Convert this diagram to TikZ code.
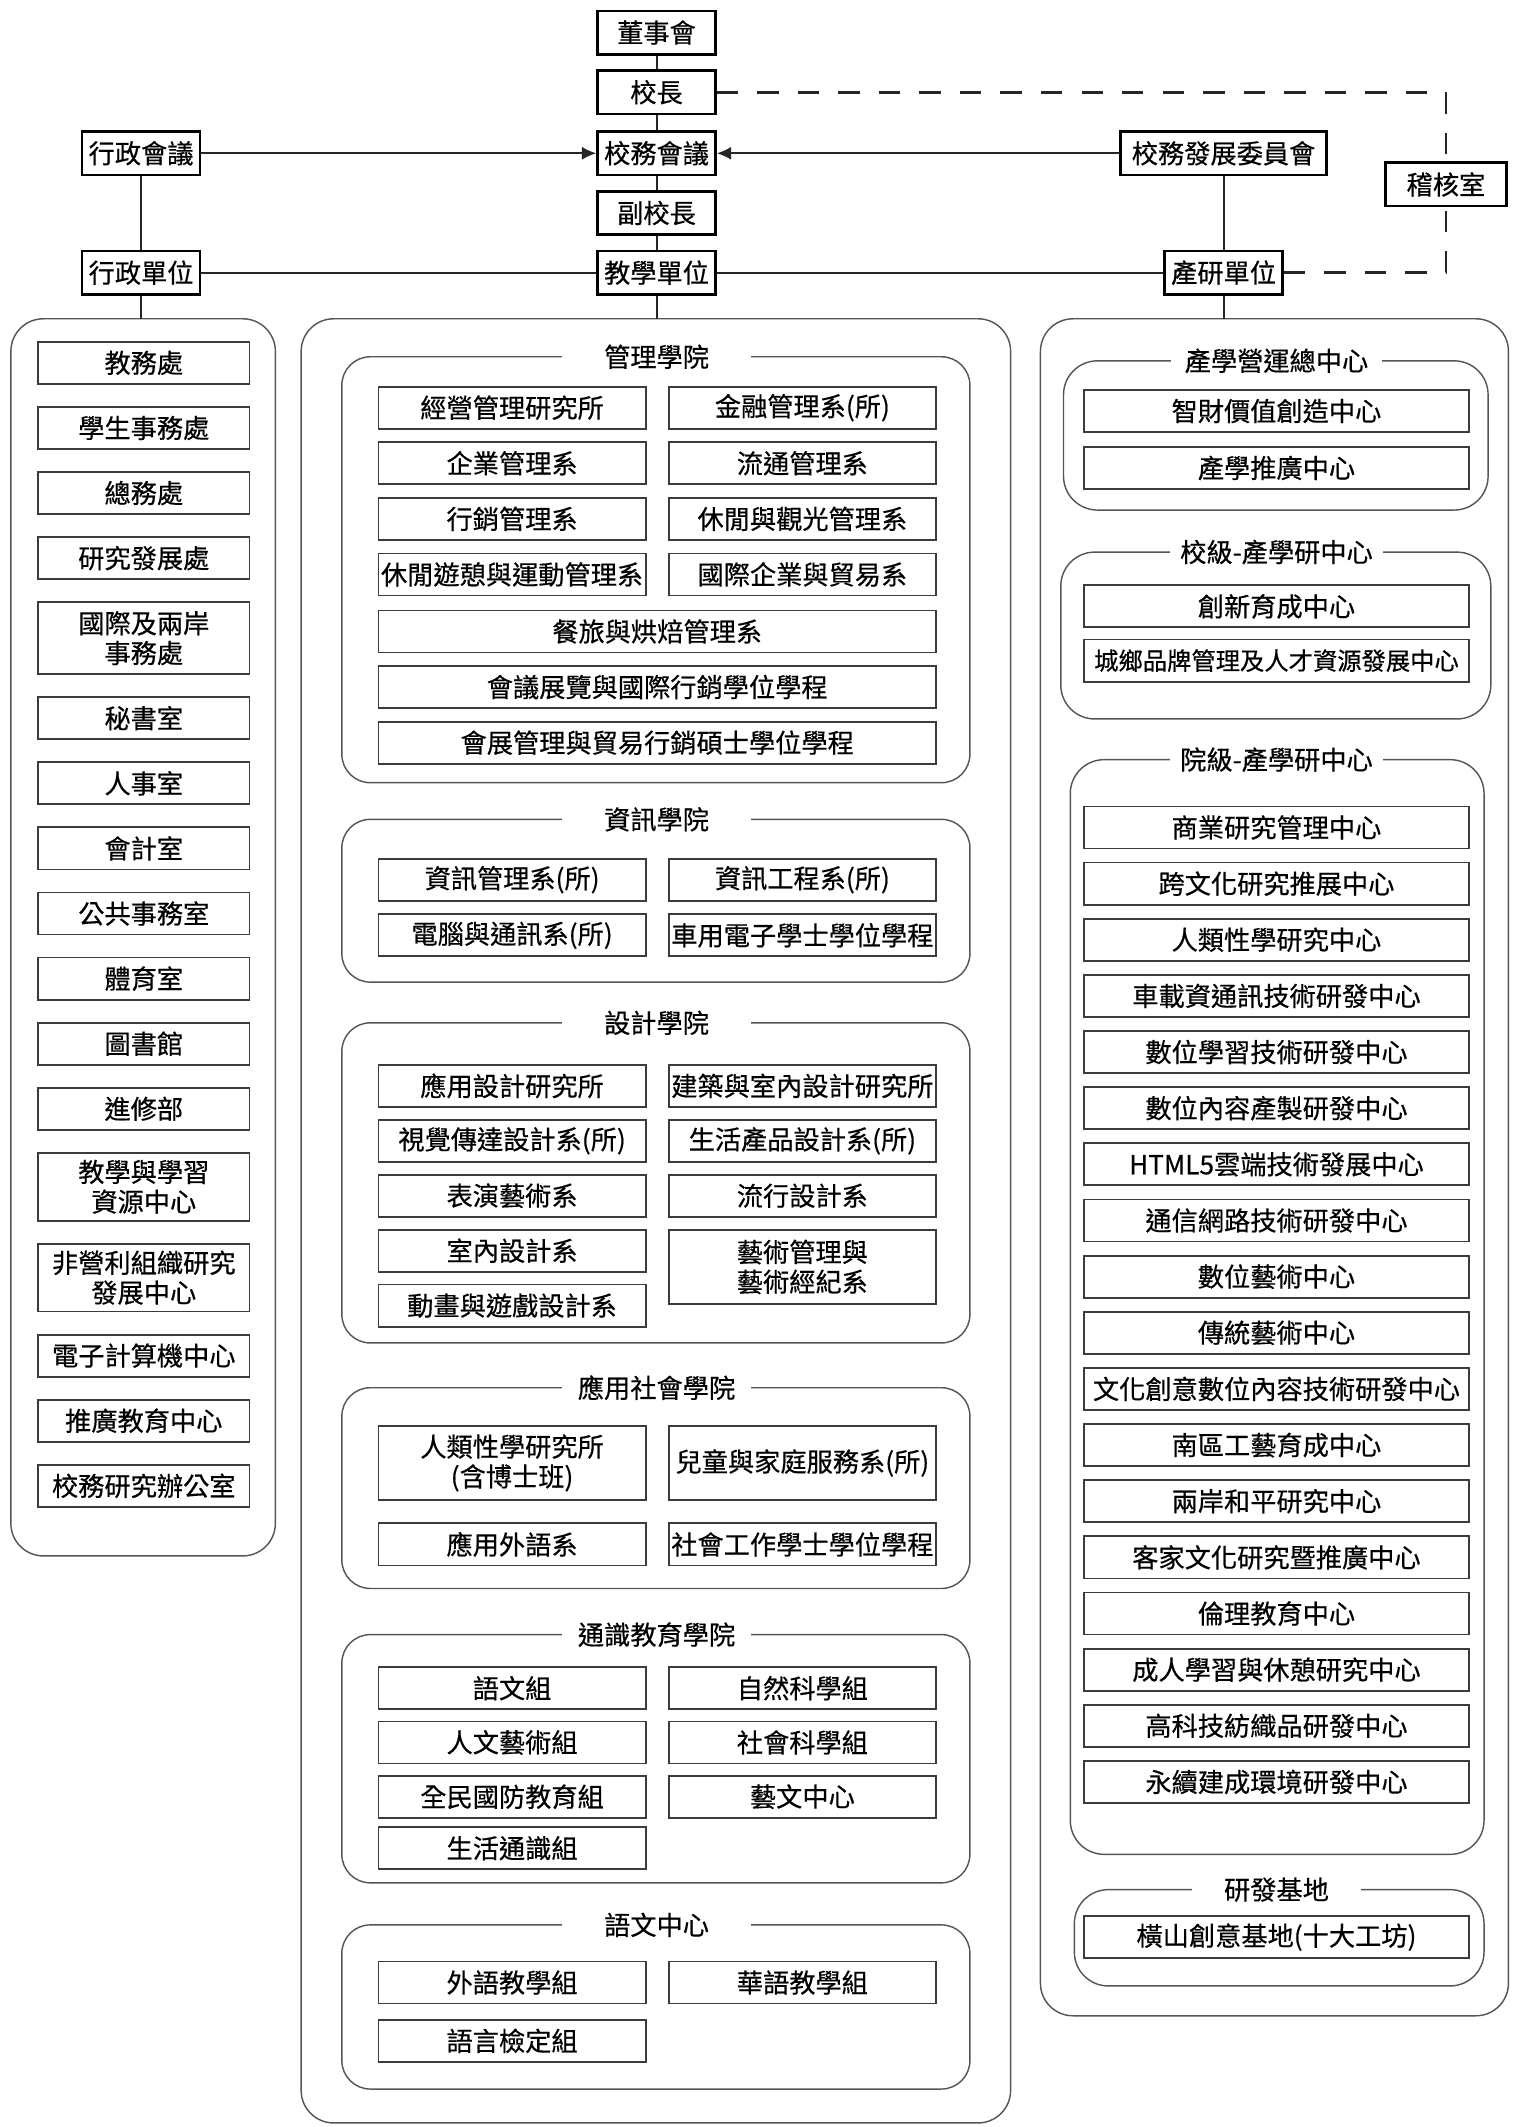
\documentclass[tikz,border=0pt]{standalone}
\usepackage{fontspec}
\setmainfont{Noto Sans CJK TC}[FakeBold=0.5]
\usetikzlibrary{arrows.meta, positioning}
\definecolor{boxgray}{HTML}{3C3C3C}
\definecolor{linegray}{HTML}{555555}

\begin{document}
\begin{tikzpicture}[x=0.02cm, y=-0.02cm,
    font=\fontsize{11}{12.5}\selectfont,
    headbox/.style={draw=black, line width=1.1pt, minimum width=1.74cm,
                    minimum height=0.64cm, inner xsep=1pt, inner ysep=0pt},
    itembox/.style={draw=boxgray, line width=0.75pt, minimum height=0.62cm,
                    inner xsep=1pt, inner ysep=0pt, outer sep=0pt, align=center},
    admbox/.style={itembox, minimum width=3.12cm},
    halfbox/.style={itembox, minimum width=3.94cm},
    fullbox/.style={itembox, minimum width=8.22cm},
    ctrbox/.style={itembox, minimum width=5.68cm},
    panel/.style={draw=linegray, line width=0.6pt, rounded corners=0.48cm},
    groupbox/.style={draw=linegray, line width=0.6pt, rounded corners=0.42cm},
    grouptitle/.style={fill=white, minimum width=2.78cm, inner ysep=0pt},
    link/.style={draw=black!85, line width=0.8pt},
    auditline/.style={link, line width=1.1pt, dash pattern=on 9pt off 8pt}]
  \useasboundingbox (0,0) rectangle (1115,1568);

  % top of the chart
  \node[headbox] (board) at (484,24) {董事會};
  \node[headbox] (pres) at (484,68) {校長};
  \node[headbox] (council) at (484,113) {校務會議};
  \node[headbox] (vpres) at (484,157) {副校長};
  \node[headbox] (teach) at (484,201) {教學單位};
  \node[headbox] (admmeet) at (104,113) {行政會議};
  \node[headbox] (admunit) at (104,201) {行政單位};
  \node[headbox, minimum width=3.04cm] (devcomm) at (902,113) {校務發展委員會};
  \node[headbox] (resunit) at (902,201) {產研單位};
  \node[headbox, minimum width=1.78cm] (auditor) at (1066,136) {稽核室};

  % the three panels
  \draw[panel] (8,235) rectangle (203,1147);
  \draw[panel] (222,235) rectangle (745,1565);
  \draw[panel] (767,235) rectangle (1112,1486);
  \coordinate (admtop) at (104,235);
  \coordinate (teachtop) at (484,235);
  \coordinate (restop) at (902,235);

  \draw[link] (board) -- (pres);
  \draw[link] (pres) -- (council);
  \draw[link] (council) -- (vpres);
  \draw[link] (vpres) -- (teach);
  \draw[link] (teach) -- (teachtop);
  \draw[link, -{Latex[length=6pt, width=5.5pt]}] (admmeet) -- (council);
  \draw[link, -{Latex[length=6pt, width=5.5pt]}] (devcomm) -- (council);
  \draw[link] (admmeet) -- (admunit);
  \draw[link] (devcomm) -- (resunit);
  \draw[link] (admunit) -- (teach);
  \draw[link] (teach) -- (resunit);
  \draw[link] (admunit) -- (admtop);
  \draw[link] (resunit) -- (restop);
  \draw[auditline] (pres) -| (auditor);
  \draw[auditline] (resunit) -| (auditor);

  % administrative units
  \node[admbox] (adm1) at (106,267.5) {教務處};
  \node[admbox, below=0.34cm of adm1] (adm2) {學生事務處};
  \node[admbox, below=0.34cm of adm2] (adm3) {總務處};
  \node[admbox, below=0.34cm of adm3] (adm4) {研究發展處};
  \node[admbox, minimum height=1.06cm, below=0.34cm of adm4] (adm5) {國際及兩岸\\事務處};
  \node[admbox, below=0.34cm of adm5] (adm6) {秘書室};
  \node[admbox, below=0.34cm of adm6] (adm7) {人事室};
  \node[admbox, below=0.34cm of adm7] (adm8) {會計室};
  \node[admbox, below=0.34cm of adm8] (adm9) {公共事務室};
  \node[admbox, below=0.34cm of adm9] (adm10) {體育室};
  \node[admbox, below=0.34cm of adm10] (adm11) {圖書館};
  \node[admbox, below=0.34cm of adm11] (adm12) {進修部};
  \node[admbox, minimum height=1.0cm, below=0.34cm of adm12] (adm13) {教學與學習\\資源中心};
  \node[admbox, minimum height=1.0cm, below=0.34cm of adm13] (adm14) {非營利組織研究\\發展中心};
  \node[admbox, below=0.34cm of adm14] (adm15) {電子計算機中心};
  \node[admbox, below=0.34cm of adm15] (adm16) {推廣教育中心};
  \node[admbox, below=0.34cm of adm16] (adm17) {校務研究辦公室};

  % colleges
  \draw[groupbox] (252,263) rectangle (715,577);
  \node[grouptitle] (mgmt) at (484,263) {管理學院};
  \node[halfbox] (m1) at (377.5,300.5) {經營管理研究所};
  \node[halfbox] (m2) at (591.5,300.5) {金融管理系(所)};
  \node[halfbox, below=0.2cm of m1] (m3) {企業管理系};
  \node[halfbox, below=0.2cm of m2] (m4) {流通管理系};
  \node[halfbox, below=0.2cm of m3] (m5) {行銷管理系};
  \node[halfbox, below=0.2cm of m4] (m6) {休閒與觀光管理系};
  \node[halfbox, below=0.2cm of m5] (m7) {休閒遊憩與運動管理系};
  \node[halfbox, below=0.2cm of m6] (m8) {國際企業與貿易系};
  \node[fullbox] (m9) at (484.5,465.5) {餐旅與烘焙管理系};
  \node[fullbox, below=0.2cm of m9] (m10) {會議展覽與國際行銷學位學程};
  \node[fullbox, below=0.2cm of m10] (m11) {會展管理與貿易行銷碩士學位學程};

  \draw[groupbox] (252,604) rectangle (715,724);
  \node[grouptitle] (info) at (484,604) {資訊學院};
  \node[halfbox] (i1) at (377.5,648.5) {資訊管理系(所)};
  \node[halfbox] (i2) at (591.5,648.5) {資訊工程系(所)};
  \node[halfbox, below=0.2cm of i1] (i3) {電腦與通訊系(所)};
  \node[halfbox, below=0.2cm of i2] (i4) {車用電子學士學位學程};

  \draw[groupbox] (252,754) rectangle (715,990);
  \node[grouptitle] (design) at (484,754) {設計學院};
  \node[halfbox] (d1) at (377.5,800.5) {應用設計研究所};
  \node[halfbox] (d2) at (591.5,800.5) {建築與室內設計研究所};
  \node[halfbox, below=0.19cm of d1] (d3) {視覺傳達設計系(所)};
  \node[halfbox, below=0.19cm of d2] (d4) {生活產品設計系(所)};
  \node[halfbox, below=0.19cm of d3] (d5) {表演藝術系};
  \node[halfbox, below=0.19cm of d4] (d6) {流行設計系};
  \node[halfbox, below=0.19cm of d5] (d7) {室內設計系};
  \node[halfbox, minimum height=1.1cm, below=0.19cm of d6] (d8) {藝術管理與\\藝術經紀系};
  \node[halfbox, below=0.19cm of d7] (d9) {動畫與遊戲設計系};

  \draw[groupbox] (252,1023) rectangle (715,1171);
  \node[grouptitle] (social) at (484,1023) {應用社會學院};
  \node[halfbox, minimum height=1.1cm] (s1) at (377.5,1078.5) {人類性學研究所\\(含博士班)};
  \node[halfbox, minimum height=1.1cm] (s2) at (591.5,1078.5) {兒童與家庭服務系(所)};
  \node[halfbox, below=0.34cm of s1] (s3) {應用外語系};
  \node[halfbox, below=0.34cm of s2] (s4) {社會工作學士學位學程};

  \draw[groupbox] (252,1205) rectangle (715,1388);
  \node[grouptitle] (general) at (484,1205) {通識教育學院};
  \node[halfbox] (g1) at (377.5,1244.5) {語文組};
  \node[halfbox] (g2) at (591.5,1244.5) {自然科學組};
  \node[halfbox, below=0.18cm of g1] (g3) {人文藝術組};
  \node[halfbox, below=0.18cm of g2] (g4) {社會科學組};
  \node[halfbox, below=0.18cm of g3] (g5) {全民國防教育組};
  \node[halfbox, below=0.18cm of g4] (g6) {藝文中心};
  \node[halfbox, below=0.14cm of g5] (g7) {生活通識組};

  \draw[groupbox] (252,1419) rectangle (715,1540);
  \node[grouptitle] (lang) at (484,1419) {語文中心};
  \node[halfbox] (l1) at (377.5,1461.5) {外語教學組};
  \node[halfbox] (l2) at (591.5,1461.5) {華語教學組};
  \node[halfbox, below=0.24cm of l1] (l3) {語言檢定組};

  % research units
  \draw[groupbox, rounded corners=0.5cm] (784,266) rectangle (1097,376);
  \node[grouptitle, minimum width=3.12cm] (ops) at (941,266) {產學營運總中心};
  \node[ctrbox] (r1) at (941,303) {智財價值創造中心};
  \node[ctrbox, below=0.22cm of r1] (r2) {產學推廣中心};

  \draw[groupbox, rounded corners=0.5cm] (782,407) rectangle (1099,530);
  \node[grouptitle, minimum width=3.14cm] (schoolctr) at (941,407) {校級-產學研中心};
  \node[ctrbox] (r3) at (941,447) {創新育成中心};
  \node[ctrbox, below=0.18cm of r3, font=\fontsize{10.2}{12}\selectfont] (r4) {城鄉品牌管理及人才資源發展中心};

  \draw[groupbox, rounded corners=0.5cm] (789,560) rectangle (1094,1367);
  \node[grouptitle, minimum width=3.14cm] (collctr) at (941,560) {院級-產學研中心};
  \node[ctrbox] (c1) at (941,610) {商業研究管理中心};
  \node[ctrbox, below=0.208cm of c1] (c2) {跨文化研究推展中心};
  \node[ctrbox, below=0.208cm of c2] (c3) {人類性學研究中心};
  \node[ctrbox, below=0.208cm of c3] (c4) {車載資通訊技術研發中心};
  \node[ctrbox, below=0.208cm of c4] (c5) {數位學習技術研發中心};
  \node[ctrbox, below=0.208cm of c5] (c6) {數位內容產製研發中心};
  \node[ctrbox, below=0.208cm of c6] (c7) {HTML5雲端技術發展中心};
  \node[ctrbox, below=0.208cm of c7] (c8) {通信網路技術研發中心};
  \node[ctrbox, below=0.208cm of c8] (c9) {數位藝術中心};
  \node[ctrbox, below=0.208cm of c9] (c10) {傳統藝術中心};
  \node[ctrbox, below=0.208cm of c10] (c11) {文化創意數位內容技術研發中心};
  \node[ctrbox, below=0.208cm of c11] (c12) {南區工藝育成中心};
  \node[ctrbox, below=0.208cm of c12] (c13) {兩岸和平研究中心};
  \node[ctrbox, below=0.208cm of c13] (c14) {客家文化研究暨推廣中心};
  \node[ctrbox, below=0.208cm of c14] (c15) {倫理教育中心};
  \node[ctrbox, below=0.208cm of c15] (c16) {成人學習與休憩研究中心};
  \node[ctrbox, below=0.208cm of c16] (c17) {高科技紡織品研發中心};
  \node[ctrbox, below=0.208cm of c17] (c18) {永續建成環境研發中心};

  \draw[groupbox, rounded corners=0.5cm] (792,1393) rectangle (1094,1464);
  \node[grouptitle, minimum width=2.5cm] (base) at (941,1393) {研發基地};
  \node[ctrbox] (b1) at (941,1428) {橫山創意基地(十大工坊)};
\end{tikzpicture}
\end{document}
